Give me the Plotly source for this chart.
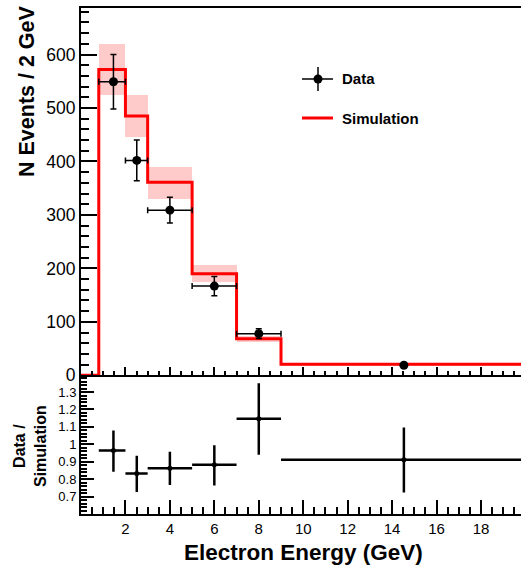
import plotly.graph_objects as go
import numpy as np

# ---- data ----
bin_edges = [0.0, 0.8, 2.0, 3.0, 5.0, 7.0, 9.0, 20.0]
sim_values = [0.0, 572.0, 485.0, 361.0, 190.0, 68.6, 20.6]
band_low = [524.0, 445.0, 330.0, 175.0, 63.0, 19.0]
band_high = [620.0, 525.0, 390.0, 206.0, 73.0, 22.5]

data_x = [1.46, 2.51, 4.0, 6.0, 8.0, 14.53]
data_y = [549.0, 402.0, 309.0, 167.0, 78.0, 18.8]
data_yerr = [51.0, 38.0, 24.0, 18.0, 9.0, 3.0]

ratio_y = [0.964, 0.832, 0.862, 0.882, 1.147, 0.912]
ratio_err_up = [0.116, 0.103, 0.096, 0.112, 0.203, 0.185]
ratio_err_dn = [0.122, 0.105, 0.095, 0.119, 0.207, 0.189]

top_yticks = [0, 100, 200, 300, 400, 500, 600]
ratio_yticks = [0.7, 0.8, 0.9, 1.0, 1.1, 1.2, 1.3]
ratio_yticklabels = ["0.7", "0.8", "0.9", "1", "1.1", "1.2", "1.3"]
x_ticks = [2, 4, 6, 8, 10, 12, 14, 16, 18]

FONT = "Liberation Sans, Arial, Helvetica, sans-serif"

# derived bin info (data bins = simulation bins 1..6)
lo_edges = bin_edges[1:-1]
hi_edges = bin_edges[2:]
centers = [(a + b) / 2 for a, b in zip(lo_edges, hi_edges)]
widths = [b - a for a, b in zip(lo_edges, hi_edges)]
xerr_minus = [x - a for x, a in zip(data_x, lo_edges)]
xerr_plus = [b - x for x, b in zip(data_x, hi_edges)]
xerr_minus_top = xerr_minus[:-1] + [0]
xerr_plus_top = xerr_plus[:-1] + [0]

fig = go.Figure()

# uncertainty band
fig.add_trace(go.Bar(
    x=centers, y=[h - l for h, l in zip(band_high, band_low)], base=band_low,
    width=widths, marker=dict(color="#ffcaca", line=dict(width=0)),
    xaxis="x2", yaxis="y2", showlegend=False, hoverinfo="skip"))

# simulation histogram
fig.add_trace(go.Scatter(
    x=bin_edges, y=sim_values + [sim_values[-1]], mode="lines",
    line=dict(color="#ff0000", width=3, shape="hv"),
    xaxis="x2", yaxis="y2", showlegend=False))

# data points
fig.add_trace(go.Scatter(
    x=data_x, y=data_y, mode="markers",
    marker=dict(color="black", size=9),
    error_y=dict(type="data", array=data_yerr, color="black", thickness=1.5, width=3),
    error_x=dict(type="data", symmetric=False, array=xerr_plus_top, arrayminus=xerr_minus_top,
                 color="black", thickness=1.5, width=3),
    xaxis="x2", yaxis="y2", showlegend=False))

# ratio
fig.add_trace(go.Scatter(
    x=data_x, y=ratio_y, mode="markers",
    marker=dict(color="black", size=5),
    error_y=dict(type="data", symmetric=False, array=ratio_err_up, arrayminus=ratio_err_dn,
                 color="black", thickness=2.5, width=0),
    error_x=dict(type="data", symmetric=False, array=xerr_plus, arrayminus=xerr_minus,
                 color="black", thickness=2.5, width=0),
    xaxis="x", yaxis="y", showlegend=False))

XR = [0, 19.8]
common_axis = dict(showline=True, linecolor="black", linewidth=2, ticks="inside",
                   tickcolor="black", tickwidth=1.5, showgrid=False, zeroline=False)

fig.update_layout(
    width=521, height=567,
    margin=dict(l=81, r=0, t=8, b=53),
    paper_bgcolor="white", plot_bgcolor="white",
    font=dict(family=FONT, color="black"),
    bargap=0,
    xaxis=dict(domain=[0, 1], range=XR, anchor="y", tickvals=x_ticks,
               ticklen=14, tickfont=dict(size=15),
               minor=dict(ticks="inside", dtick=0.5, tick0=0, ticklen=7, tickcolor="black", tickwidth=1.5),
               **common_axis),
    yaxis=dict(domain=[0, 0.272], range=[0.6, 1.39], anchor="x", tickvals=ratio_yticks,
               ticktext=ratio_yticklabels, ticklen=13, tickfont=dict(size=13),
               minor=dict(ticks="inside", dtick=0.02, tick0=0.6, ticklen=6, tickcolor="black", tickwidth=1.5),
               **common_axis),
    xaxis2=dict(domain=[0, 1], range=XR, anchor="y2", matches="x", tickvals=x_ticks,
                showticklabels=False, ticklen=8, mirror=True,
                minor=dict(ticks="inside", dtick=0.5, tick0=0, ticklen=4, tickcolor="black", tickwidth=1.5),
                **common_axis),
    yaxis2=dict(domain=[0.274, 1], range=[0, 687], anchor="x2", tickvals=top_yticks,
                ticklen=16, tickfont=dict(size=17.5),
                minor=dict(ticks="inside", dtick=20, tick0=0, ticklen=8, tickcolor="black", tickwidth=1.5),
                **common_axis),
)

# axis titles
fig.add_annotation(text="<b>N Events / 2 GeV</b>", textangle=-90, xref="paper", yref="paper",
                   x=(27 - 81) / 440, y=(514 - 91) / 506, xanchor="center", yanchor="middle",
                   showarrow=False, font=dict(size=21.5, family=FONT))
fig.add_annotation(text="<b>Data /<br>Simulation</b>", textangle=-90, xref="paper", yref="paper",
                   x=(30 - 81) / 440, y=(514 - 446) / 506, xanchor="center", yanchor="middle",
                   showarrow=False, font=dict(size=16, family=FONT))
fig.add_annotation(text="<b>Electron Energy (GeV)</b>", xref="paper", yref="paper",
                   x=(303.5 - 81) / 440, y=(514 - 552) / 506, xanchor="center", yanchor="middle",
                   showarrow=False, font=dict(size=22.5, family=FONT))

# legend (drawn manually to reproduce ROOT style)
def px_x(p):
    return (p - 81) / 440
def px_y(p):
    return (514 - p) / 506

fig.add_shape(type="line", xref="paper", yref="paper", x0=px_x(302), x1=px_x(333), y0=px_y(79), y1=px_y(79),
              line=dict(color="black", width=1.5))
fig.add_shape(type="line", xref="paper", yref="paper", x0=px_x(318), x1=px_x(318), y0=px_y(67), y1=px_y(91),
              line=dict(color="black", width=1.5))
fig.add_shape(type="circle", xref="paper", yref="paper", x0=px_x(313.5), x1=px_x(322.5),
              y0=px_y(74.5), y1=px_y(83.5), fillcolor="black", line=dict(color="black", width=0))
fig.add_shape(type="line", xref="paper", yref="paper", x0=px_x(302), x1=px_x(333), y0=px_y(118), y1=px_y(118),
              line=dict(color="#ff0000", width=3))
fig.add_annotation(text="<b>Data</b>", xref="paper", yref="paper", x=px_x(340), y=px_y(79),
                   xanchor="left", yanchor="middle", showarrow=False, font=dict(size=15, family=FONT))
fig.add_annotation(text="<b>Simulation</b>", xref="paper", yref="paper", x=px_x(340), y=px_y(119),
                   xanchor="left", yanchor="middle", showarrow=False, font=dict(size=15, family=FONT))

fig.write_html("out.html")
